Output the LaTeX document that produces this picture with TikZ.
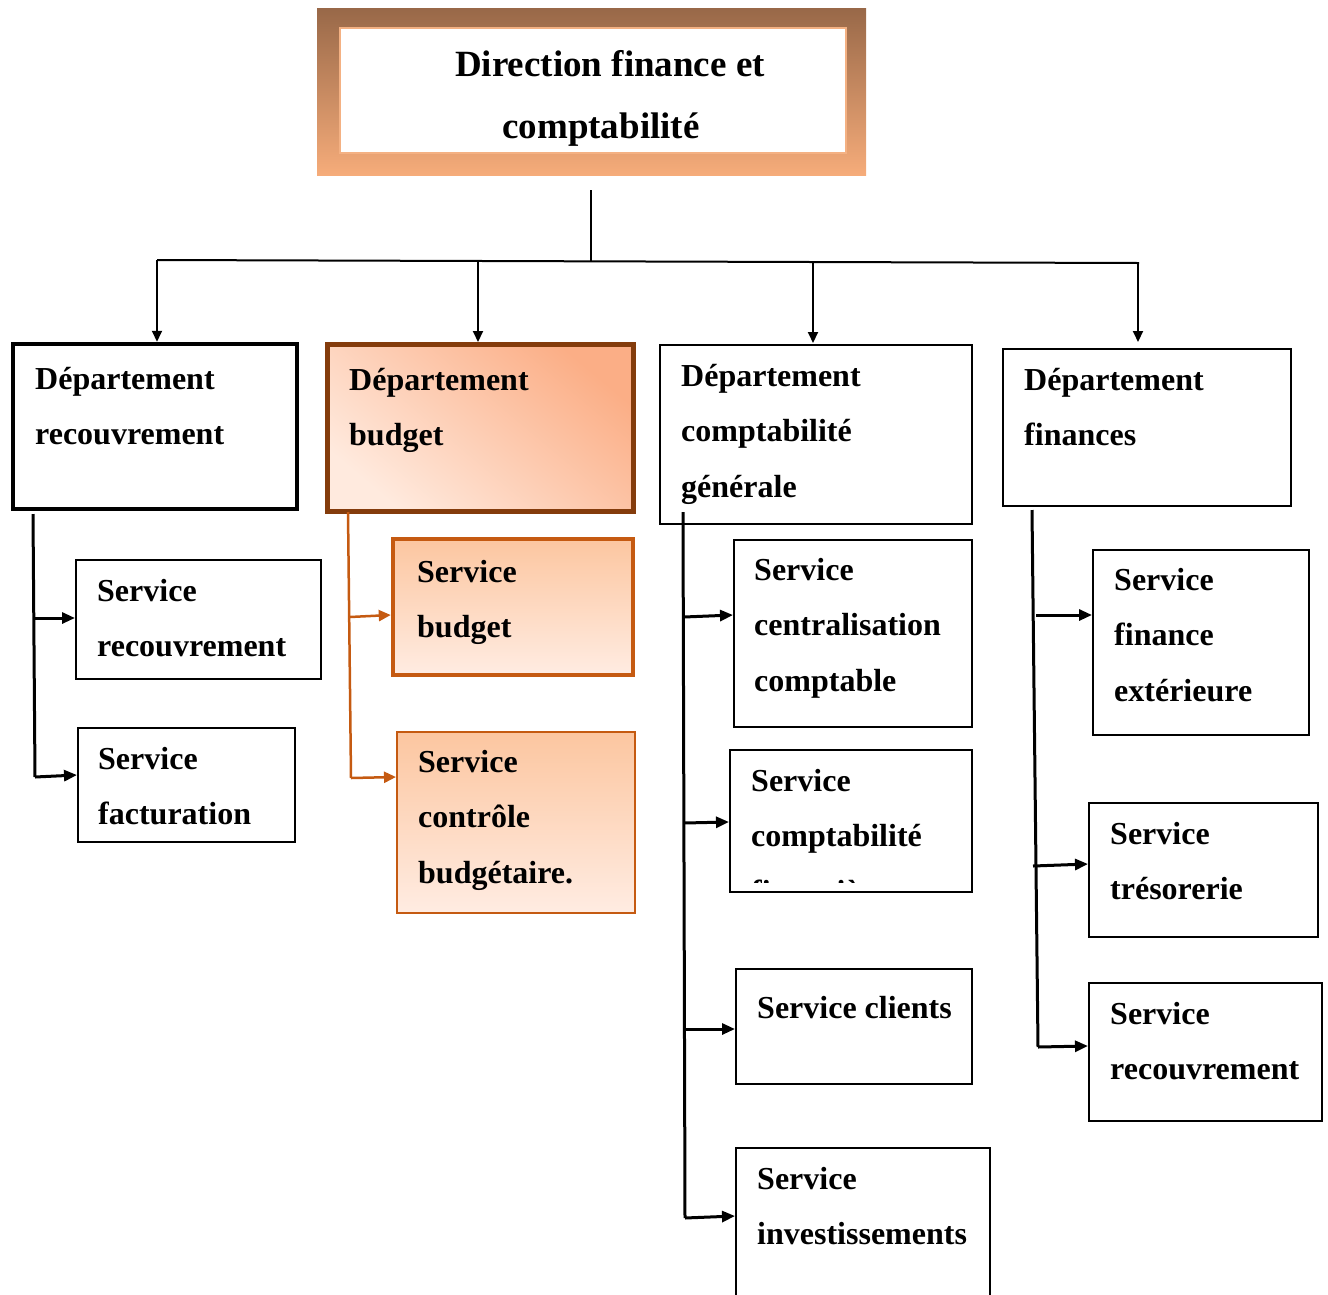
\documentclass[tikz,border=0pt]{standalone}
\usepackage{fontspec}
\setmainfont{Liberation Serif}
\usetikzlibrary{arrows.meta,fit}

\definecolor{frameTop}{RGB}{152,104,72}
\definecolor{frameBot}{RGB}{246,172,122}
\definecolor{frameLine}{RGB}{244,177,131}
\definecolor{budBrown}{RGB}{132,60,12}
\definecolor{budOrange}{RGB}{197,90,17}
\definecolor{peachDark}{RGB}{251,174,134}
\definecolor{peachLight}{RGB}{255,234,222}
\definecolor{peachTop}{RGB}{252,198,160}
\definecolor{peachBot}{RGB}{255,236,226}

% one line of box text per node
\newcommand\boxlines[4]{%
  \foreach \ln [count=\k] in {#4} {%
    \node[lbl] (#1-\k) at (#2,{#3+55.5*(\k-1)}) {\ln};}}

\begin{document}
\begin{tikzpicture}[x=1pt,y=-1pt,
  lbl/.style={anchor=base west,inner sep=0pt,font=\bfseries\fontsize{32}{38}\selectfont},
  ttl/.style={anchor=base,inner sep=0pt,font=\bfseries\fontsize{37}{44}\selectfont},
  frame/.style={inner sep=0pt,draw=black,line width=2pt},
  heavy/.style={inner sep=0pt,draw=black,line width=4.5pt},
  tree/.style={line width=2pt},
  treearrow/.style={line width=2pt,-{Triangle[length=11pt,width=10pt]}},
  conn/.style={line width=3pt,-{Triangle[length=13pt,width=11pt]}},
  spine/.style={line width=3pt},
  oconn/.style={line width=2.5pt,budOrange,-{Triangle[length=12pt,width=11pt]}},
  ospine/.style={line width=2.5pt,budOrange},
]
\useasboundingbox (0,0) rectangle (1328,1294);

% ---- top box: shaded frame with a white panel ----
\node[inner sep=0pt,fit={(317,8) (866,175)},top color=frameTop,bottom color=frameBot] (dir) {};
\node[inner sep=0pt,fit={(340,28) (846,153)},fill=white,draw=frameLine,line width=1.5pt] (dirin) {};
\node[ttl] (dir-1) at (610,76) {Direction finance et};
\node[ttl] (dir-2) at (601,138) {comptabilité};

% ---- departments ----
\node[heavy,fit={(13,344) (297,509)}] (drec) {};
\boxlines{drec}{35}{389}{Département,recouvrement}

\node[inner sep=0pt,fit={(327,344) (633,511)},
      top color=peachDark,bottom color=peachLight,shading angle=-40,
      draw=budBrown,line width=5pt] (dbud) {};
\boxlines{dbud}{349}{390}{Département,budget}

\node[frame,fit={(660,345) (972,524)}] (dcg) {};
\boxlines{dcg}{681}{386}{Département,comptabilité,générale}

\node[frame,fit={(1003,349) (1291,506)}] (dfin) {};
\boxlines{dfin}{1024}{390}{Département,finances}

% ---- services ----
\node[frame,fit={(76,560) (321,679)}] (srec) {};
\boxlines{srec}{97}{601}{Service,recouvrement}
\node[frame,fit={(78,728) (295,842)}] (sfac) {};
\boxlines{sfac}{98}{769}{Service,facturation}

\node[inner sep=0pt,fit={(393,539) (633,675)},top color=peachTop,bottom color=peachBot,
      draw=budOrange,line width=4.5pt] (sbud) {};
\boxlines{sbud}{417}{582}{Service,budget}
\node[inner sep=0pt,fit={(397,732) (635,913)},top color=peachTop,bottom color=peachBot,
      draw=budOrange,line width=2pt] (sctl) {};
\boxlines{sctl}{418}{772}{Service,contrôle,budgétaire.}

\node[frame,fit={(734,540) (972,727)}] (scc) {};
\boxlines{scc}{754}{580}{Service,centralisation,comptable}
\node[frame,fit={(730,750) (972,892)}] (scf) {};
\boxlines{scf}{751}{791}{Service,comptabilité}
\begin{scope}
  \clip (732,752) rectangle (970,882);
  \node[lbl] (scf-3) at (751,902) {financière};
\end{scope}
\node[frame,fit={(736,969) (972,1084)}] (scl) {};
\boxlines{scl}{757}{1018}{Service clients}
\node[frame,fit={(736,1148) (990,1310)}] (sinv) {};
\boxlines{sinv}{757}{1189}{Service,investissements}

\node[frame,fit={(1093,550) (1309,735)}] (sfe) {};
\boxlines{sfe}{1114}{590}{Service,finance,extérieure}
\node[frame,fit={(1089,803) (1318,937)}] (str) {};
\boxlines{str}{1110}{844}{Service,trésorerie}
\node[frame,fit={(1089,983) (1322,1121)}] (srf) {};
\boxlines{srf}{1110}{1024}{Service,recouvrement}

% ---- top-level tree ----
\coordinate (drop) at (591,190);
\coordinate (hmid) at (591,261);
\coordinate (hl) at (157,260);
\coordinate (hr) at (1139,263);
\draw[tree] (drop) -- (hmid);
\draw[tree] (hl) -- (hr);
\draw[treearrow] (hl) -- (hl |- drec.north);
\draw[treearrow] (478,261) -- (478,342);
\draw[treearrow] (813,262) -- (813,343);
\draw[treearrow] (1138,263) -- (1138,342);

% ---- department recouvrement branches ----
\coordinate (c1top) at (33,514);
\coordinate (c1end) at (35,777);
\draw[spine] (c1top) -- (c1end);
\draw[conn] (33,618) -- (srec.west |- 0,618);
\draw[conn] (c1end) -- (sfac.west |- 0,775);

% ---- department budget branches ----
\coordinate (c2top) at (348,512);
\coordinate (c2end) at (351,778);
\draw[ospine] (c2top) -- (c2end);
\draw[oconn] (350,617) -- (sbud.west |- 0,615);
\draw[oconn] (c2end) -- (sctl.west |- 0,777);

% ---- department comptabilite generale branches ----
\coordinate (c3top) at (683,512);
\coordinate (c3end) at (685,1218);
\draw[spine] (c3top) -- (c3end);
\draw[conn] (684,617) -- (scc.west |- 0,615);
\draw[conn] (684,823) -- (scf.west |- 0,822);
\draw[conn] (685,1029) -- (scl.west |- 0,1029);
\draw[conn] (c3end) -- (sinv.west |- 0,1216);

% ---- department finances branches ----
\coordinate (c4top) at (1032,510);
\coordinate (c4end) at (1038,1047);
\draw[spine] (c4top) -- (c4end);
\draw[conn] (1036,615) -- (sfe.west |- 0,615);
\draw[conn] (1033,866) -- (str.west |- 0,864);
\draw[conn] (c4end) -- (srf.west |- 0,1046);
\end{tikzpicture}
\end{document}
